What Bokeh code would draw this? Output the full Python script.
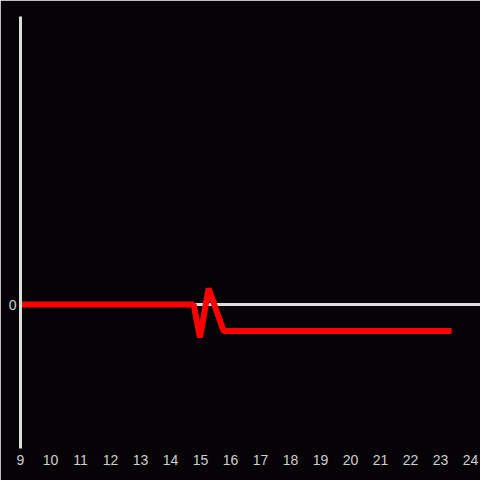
from bokeh.plotting import figure
from bokeh.models import Span, FixedTicker, Range1d
from bokeh.embed import file_html
from bokeh.resources import INLINE

hours = [9, 10, 11, 12, 13, 14, 14.77, 14.98, 15.27, 15.77, 16, 17, 18, 19, 20, 21, 22, 23, 23.37]
values = [0, 0, 0, 0, 0, 0, 0, -0.33, 0.16, -0.265, -0.265, -0.265, -0.265, -0.265, -0.265, -0.265, -0.265, -0.265, -0.265]
x_ticks = list(range(9, 25))
y_ticks = [0]

BG = "#060307"
FG = "#dddddd"
TXT = "#d0d0d0"
FONT = "Liberation Sans"

p = figure(width=480, height=480, output_backend="svg", toolbar_location=None,
           x_range=Range1d(9, 24 + 10 / 30), y_range=Range1d(-1.44, 2.88),
           min_border_left=20, min_border_right=0, min_border_top=16, min_border_bottom=32)
p.background_fill_color = BG
p.border_fill_color = BG
p.outline_line_color = BG
p.outline_line_width = 2
p.grid.visible = False

p.xaxis.ticker = FixedTicker(ticks=x_ticks)
p.xaxis.axis_line_color = None
p.xaxis.major_tick_line_color = None
p.xaxis.minor_tick_line_color = None
p.xaxis.major_tick_out = 0
p.xaxis.major_label_text_color = TXT
p.xaxis.major_label_text_font = FONT
p.xaxis.major_label_text_font_size = "14px"
p.xaxis.major_label_standoff = 6

p.yaxis.ticker = FixedTicker(ticks=y_ticks)
p.yaxis.axis_line_color = FG
p.yaxis.axis_line_width = 3
p.yaxis.major_tick_line_color = None
p.yaxis.minor_tick_line_color = None
p.yaxis.major_tick_out = 0
p.yaxis.major_label_text_color = TXT
p.yaxis.major_label_text_font = FONT
p.yaxis.major_label_text_font_size = "14px"
p.yaxis.major_label_standoff = 4

p.add_layout(Span(location=0, dimension="width", line_color=FG, line_width=3, level="underlay"))
p.line(hours, values, line_color="#ff0000", line_width=6)

open("out.html", "w").write(file_html(p, INLINE))
